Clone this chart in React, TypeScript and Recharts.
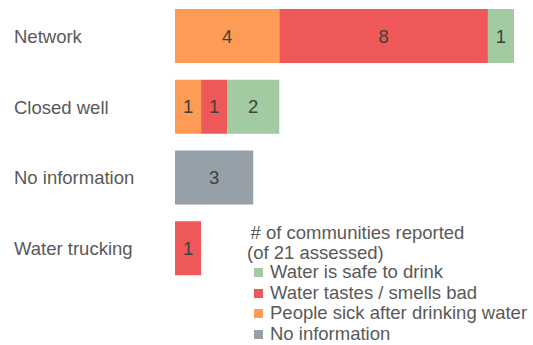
import React from "react";
import { BarChart, Bar, XAxis, YAxis, LabelList, Legend } from "recharts";

const categories = ["Network", "Closed well", "No information", "Water trucking"];
const sickValues = [4, 1, 0, 0];
const badValues = [8, 1, 0, 1];
const safeValues = [1, 2, 0, 0];
const noInfoValues = [0, 0, 3, 0];

const legendTitle = ["# of communities reported", "(of 21 assessed)"];
const legendItems = [
  { label: "Water is safe to drink", color: "#A3CBA1" },
  { label: "Water tastes / smells bad", color: "#EE5859" },
  { label: "People sick after drinking water", color: "#FE9B55" },
  { label: "No information", color: "#95A0A9" },
];

const data = categories.map((name, i) => ({
  name,
  sick: sickValues[i] || null,
  bad: badValues[i] || null,
  safe: safeValues[i] || null,
  noinfo: noInfoValues[i] || null,
}));

const FONT = "'Liberation Sans', Arial, sans-serif";
const FS = 18.5;

const YTick = (props: any) => {
  const { y, payload } = props;
  return (
    <text x={14} y={y} textAnchor="start" dominantBaseline="central" fill="#595959" fontSize={FS} fontFamily={FONT}>
      {payload.value}
    </text>
  );
};

const LegendContent = () => (
  <div style={{ fontFamily: FONT, fontSize: FS, color: "#595959", textAlign: "left", whiteSpace: "nowrap" }}>
    <div style={{ lineHeight: "19.5px", paddingLeft: 3.5 }}>{legendTitle[0]}</div>
    <div style={{ lineHeight: "19.5px" }}>{legendTitle[1]}</div>
    {legendItems.map((it) => (
      <div key={it.label} style={{ lineHeight: "20.7px", height: 20.7, display: "flex", alignItems: "center" }}>
        <span style={{ display: "inline-block", width: 9, height: 9, background: it.color, marginLeft: 7, marginRight: 7, flex: "none" }} />
        <span>{it.label}</span>
      </div>
    ))}
  </div>
);

const labelProps = { position: "center" as const, fill: "#404040", fontSize: FS, fontFamily: FONT };

export default function App() {
  return (
    <div style={{ position: "absolute", left: 0, top: 0, width: 533, height: 345, background: "#fff" }}>
      <BarChart
        width={533}
        height={345}
        data={data}
        layout="vertical"
        margin={{ top: 1, right: 19, bottom: 61, left: 0 }}
      >
        <XAxis type="number" domain={[0, 13]} hide />
        <YAxis
          type="category"
          dataKey="name"
          width={175}
          axisLine={false}
          tickLine={false}
          tick={<YTick />}
        />
        <Legend
          layout="horizontal"
          verticalAlign="middle"
          align="center"
          content={<LegendContent />}
          wrapperStyle={{ top: 223, left: 247, width: "auto" }}
        />
        <Bar dataKey="sick" stackId="a" fill="#FE9B55" barSize={54} isAnimationActive={false}>
          <LabelList dataKey="sick" {...labelProps} />
        </Bar>
        <Bar dataKey="bad" stackId="a" fill="#EE5859" barSize={54} isAnimationActive={false}>
          <LabelList dataKey="bad" {...labelProps} />
        </Bar>
        <Bar dataKey="safe" stackId="a" fill="#A3CBA1" barSize={54} isAnimationActive={false}>
          <LabelList dataKey="safe" {...labelProps} />
        </Bar>
        <Bar dataKey="noinfo" stackId="a" fill="#95A0A9" barSize={54} isAnimationActive={false}>
          <LabelList dataKey="noinfo" {...labelProps} />
        </Bar>
      </BarChart>
    </div>
  );
}
